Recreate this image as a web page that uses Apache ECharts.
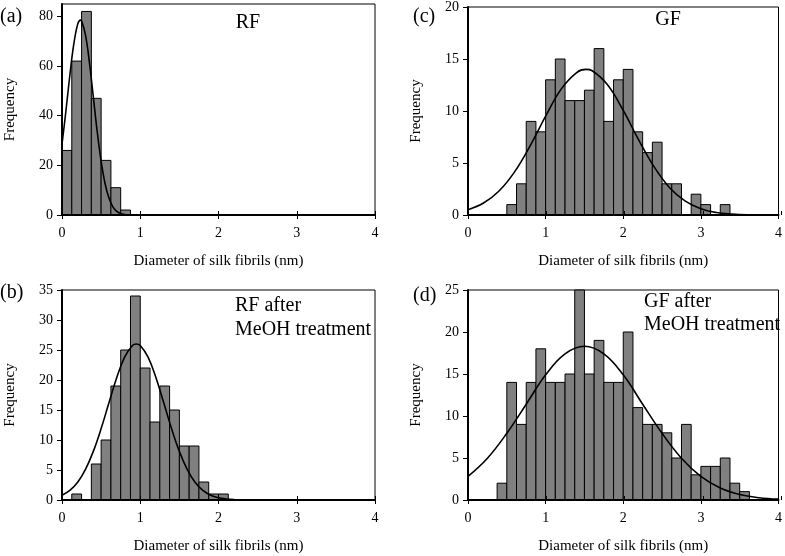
<!DOCTYPE html>
<html>
<head>
<meta charset="utf-8">
<script src="https://cdn.jsdelivr.net/npm/echarts@6/dist/echarts.min.js"></script>
<style>
html,body{margin:0;padding:0;background:#fff;}
#chart{width:785px;height:556px;}
</style>
</head>
<body>
<div id="chart"></div>
<script>
// ---------- data ----------
const binWidth = 0.125;
const xTicks = [0, 1, 2, 3, 4];

// (a) RF
const rfBinStart = [0, 0.125, 0.25, 0.375, 0.5, 0.625, 0.75];
const rfCounts   = [26, 62, 82, 47, 22, 11, 2];
const rfFitX = [0, 0.05, 0.1, 0.15, 0.2, 0.235, 0.25, 0.3, 0.35, 0.4, 0.45, 0.5, 0.55, 0.6, 0.65, 0.7, 0.75, 0.8, 0.85, 0.9];
const rfFitY = [28.5, 41.9, 56.2, 68.7, 76.8, 78.5, 78.2, 72.6, 61.6, 47.6, 33.6, 21.7, 12.7, 6.8, 3.3, 1.5, 0.6, 0.2, 0.07, 0];
const rfYTicks = [0, 20, 40, 60, 80];

// (c) GF
const gfBinStart = [0.5, 0.625, 0.75, 0.875, 1.0, 1.125, 1.25, 1.375, 1.5, 1.625, 1.75, 1.875, 2.0, 2.125, 2.25, 2.375, 2.5, 2.625, 2.75, 2.875, 3.0, 3.125, 3.25];
const gfCounts   = [1, 3, 9, 8, 13, 15, 11, 11, 12, 16, 9, 13, 14, 8, 6, 7, 3, 3, 0, 2, 1, 0, 1];
const gfFitX = [0, 0.2, 0.4, 0.6, 0.8, 1.0, 1.2, 1.4, 1.52, 1.6, 1.8, 2.0, 2.2, 2.4, 2.6, 2.8, 3.0, 3.2, 3.4, 3.6];
const gfFitY = [0.51, 1.15, 2.31, 4.15, 6.65, 9.5, 12.1, 13.7, 14, 13.87, 12.5, 10.05, 7.2, 4.6, 2.6, 1.33, 0.6, 0.24, 0.09, 0.02];
const gfYTicks = [0, 5, 10, 15, 20];

// (b) RF after MeOH treatment
const rfMeBinStart = [0.125, 0.25, 0.375, 0.5, 0.625, 0.75, 0.875, 1.0, 1.125, 1.25, 1.375, 1.5, 1.625, 1.75, 1.875, 2.0];
const rfMeCounts   = [1, 0, 6, 10, 19, 25, 34, 22, 13, 19, 15, 9, 9, 3, 1, 1];
const rfMeFitX = [0, 0.1, 0.2, 0.3, 0.4, 0.5, 0.6, 0.7, 0.8, 0.9, 0.95, 1.0, 1.1, 1.2, 1.3, 1.4, 1.5, 1.6, 1.7, 1.8, 1.9, 2.0, 2.1, 2.2];
const rfMeFitY = [0.8, 1.6, 2.96, 5.1, 8.1, 11.9, 16.2, 20.4, 23.8, 25.75, 26, 25.75, 23.8, 20.4, 16.2, 11.9, 8.1, 5.1, 2.96, 1.6, 0.8, 0.37, 0.16, 0.06];
const rfMeYTicks = [0, 5, 10, 15, 20, 25, 30, 35];

// (d) GF after MeOH treatment
const gfMeBinStart = [0.375, 0.5, 0.625, 0.75, 0.875, 1.0, 1.125, 1.25, 1.375, 1.5, 1.625, 1.75, 1.875, 2.0, 2.125, 2.25, 2.375, 2.5, 2.625, 2.75, 2.875, 3.0, 3.125, 3.25, 3.375, 3.5];
const gfMeCounts   = [2, 14, 9, 14, 18, 14, 14, 15, 25, 15, 19, 14, 14, 20, 11, 9, 9, 8, 5, 9, 3, 4, 4, 5, 2, 1];
const gfMeFitX = [0, 0.25, 0.5, 0.75, 1.0, 1.25, 1.5, 1.75, 2.0, 2.25, 2.5, 2.75, 3.0, 3.25, 3.5, 3.75, 4.0];
const gfMeFitY = [2.8, 4.97, 7.94, 11.4, 14.9, 17.4, 18.3, 17.4, 14.9, 11.4, 7.94, 4.97, 2.8, 1.42, 0.65, 0.27, 0.1];
const gfMeYTicks = [0, 5, 10, 15, 20, 25];

const xName = 'Diameter of silk fibrils (nm)';
const yName = 'Frequency';

// ---------- layout ----------
const FONT = 'Liberation Serif';
const panels = [
  {bins: rfBinStart, counts: rfCounts, fx: rfFitX, fy: rfFitY, yTicks: rfYTicks, ymax: 85,
   grid: {left: 62, top: 4, width: 313, height: 211}},
  {bins: gfBinStart, counts: gfCounts, fx: gfFitX, fy: gfFitY, yTicks: gfYTicks, ymax: 20,
   grid: {left: 468, top: 4, width: 313, height: 211}},
  {bins: rfMeBinStart, counts: rfMeCounts, fx: rfMeFitX, fy: rfMeFitY, yTicks: rfMeYTicks, ymax: 35,
   grid: {left: 62, top: 290, width: 313, height: 210}},
  {bins: gfMeBinStart, counts: gfMeCounts, fx: gfMeFitX, fy: gfMeFitY, yTicks: gfMeYTicks, ymax: 25,
   grid: {left: 468, top: 290, width: 313, height: 210}}
];

const grids = [], xAxes = [], yAxes = [], series = [];
panels.forEach((p, i) => {
  const gMain = grids.length;
  grids.push(Object.assign({show: true, borderColor: '#000', borderWidth: 1, backgroundColor: 'transparent', containLabel: false}, p.grid));
  xAxes.push({
    gridIndex: gMain, type: 'value', min: 0, max: 4, interval: 1, z: 5,
    axisLine: {show: true, onZero: false, lineStyle: {color: '#000', width: 2}},
    axisTick: {show: true, length: 4, lineStyle: {color: '#000', width: 1}},
    axisLabel: {color: '#000', fontFamily: FONT, fontSize: 14, margin: 11, customValues: xTicks},
    splitLine: {show: false},
    name: xName, nameLocation: 'middle', nameGap: 39,
    nameTextStyle: {color: '#000', fontFamily: FONT, fontSize: 15}
  });
  yAxes.push({
    gridIndex: gMain, type: 'value', min: 0, max: p.ymax, z: 5,
    axisLine: {show: true, onZero: false, lineStyle: {color: '#000', width: 2}},
    axisTick: {show: true, length: 5, lineStyle: {color: '#000', width: 1}, customValues: p.yTicks},
    axisLabel: {color: '#000', fontFamily: FONT, fontSize: 14, margin: 9, customValues: p.yTicks},
    splitLine: {show: false},
    name: yName, nameLocation: 'middle', nameGap: 44,
    nameTextStyle: {color: '#000', fontFamily: FONT, fontSize: 15}
  });
  // overlay grid: x ticks crossing into the plot
  const gOv = grids.length;
  grids.push(Object.assign({show: false}, p.grid));
  xAxes.push({
    gridIndex: gOv, type: 'value', min: 0, max: 4, z: 5,
    axisLine: {show: false}, axisLabel: {show: false}, splitLine: {show: false},
    axisTick: {show: true, inside: true, length: 4, lineStyle: {color: '#000', width: 1}, customValues: xTicks}
  });
  yAxes.push({gridIndex: gOv, type: 'value', min: 0, max: p.ymax, show: false});

  series.push({
    type: 'custom', xAxisIndex: gMain, yAxisIndex: gMain, z: 2,
    data: p.bins.map((b, k) => [b, p.counts[k]]),
    renderItem: function (params, api) {
      const x0 = api.value(0), v = api.value(1);
      if (!v) return null;
      const a = api.coord([x0, v]);
      const b = api.coord([x0 + binWidth, 0]);
      return {
        type: 'rect',
        shape: {x: a[0], y: a[1], width: b[0] - a[0], height: b[1] - a[1]},
        style: {fill: '#808080', stroke: '#000', lineWidth: 1}
      };
    }
  });
  series.push({
    type: 'line', xAxisIndex: gMain, yAxisIndex: gMain, z: 3,
    data: p.fx.map((x, k) => [x, p.fy[k]]),
    smooth: 0.4, showSymbol: false, symbol: 'none',
    lineStyle: {color: '#000', width: 1.6}
  });
});

const txt = (text, x, y, size, align) => ({
  type: 'text', x: x, y: y, z: 10,
  style: {text: text, fill: '#000', font: size + 'px "' + FONT + '"', textAlign: align || 'left', textVerticalAlign: 'middle'}
});

const option = {
  animation: false,
  backgroundColor: '#fff',
  grid: grids, xAxis: xAxes, yAxis: yAxes, series: series,
  graphic: [
    txt('(a)', 0, 17, 20), txt('(c)', 413, 17, 20),
    txt('(b)', 0, 293, 20), txt('(d)', 413, 296, 20),
    txt('RF', 248, 23, 20, 'center'),
    txt('GF', 668, 20, 20, 'center'),
    txt('RF after', 235, 306, 20), txt('MeOH treatment', 235, 330, 20),
    txt('GF after', 644, 302, 20), txt('MeOH treatment', 644, 325, 20)
  ]
};

const chart = echarts.init(document.getElementById('chart'), null, {renderer: 'canvas'});
chart.setOption(option);
</script>
</body>
</html>
